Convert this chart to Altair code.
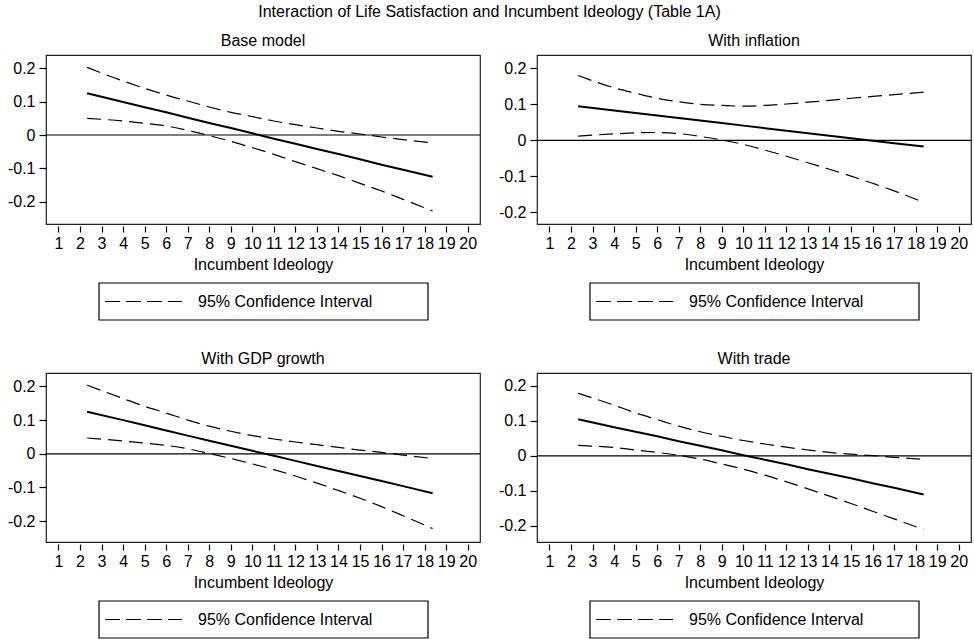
import altair as alt
import pandas as pd

# ---------------- data ----------------
main_title = "Interaction of Life Satisfaction and Incumbent Ideology (Table 1A)"
panel_titles = ["Base model", "With inflation", "With GDP growth", "With trade"]
x_title = "Incumbent Ideology"
legend_label = "95% Confidence Interval"

x_grid = [2.33, 4, 5, 6, 7, 8, 9, 10, 11, 12, 13, 14, 15, 16, 17, 18.37]
x_ticks = list(range(1, 21))
y_ticks = [-0.2, -0.1, 0, 0.1, 0.2]

base_est = [0.125, 0.099, 0.083, 0.068, 0.052, 0.036, 0.021, 0.005, -0.011, -0.026, -0.042, -0.057, -0.073, -0.089, -0.104, -0.125]
base_hi = [0.203, 0.162, 0.140, 0.120, 0.102, 0.084, 0.068, 0.055, 0.042, 0.031, 0.021, 0.011, 0.003, -0.006, -0.014, -0.024]
base_lo = [0.050, 0.042, 0.035, 0.027, 0.014, -0.002, -0.019, -0.038, -0.058, -0.080, -0.101, -0.122, -0.145, -0.168, -0.193, -0.228]

infl_est = [0.095, 0.083, 0.076, 0.069, 0.062, 0.055, 0.048, 0.041, 0.034, 0.027, 0.020, 0.013, 0.006, -0.001, -0.008, -0.017]
infl_hi = [0.180, 0.146, 0.131, 0.117, 0.107, 0.100, 0.097, 0.095, 0.097, 0.101, 0.106, 0.111, 0.117, 0.122, 0.127, 0.134]
infl_lo = [0.012, 0.018, 0.021, 0.022, 0.019, 0.011, 0.001, -0.011, -0.027, -0.044, -0.062, -0.080, -0.099, -0.119, -0.140, -0.172]

gdp_est = [0.125, 0.100, 0.085, 0.069, 0.054, 0.039, 0.024, 0.009, -0.006, -0.021, -0.036, -0.051, -0.066, -0.081, -0.096, -0.117]
gdp_hi = [0.204, 0.164, 0.141, 0.121, 0.100, 0.082, 0.067, 0.054, 0.044, 0.035, 0.027, 0.019, 0.011, 0.004, -0.004, -0.014]
gdp_lo = [0.047, 0.038, 0.032, 0.025, 0.015, 0.001, -0.014, -0.030, -0.047, -0.066, -0.087, -0.109, -0.132, -0.157, -0.184, -0.222]

trade_est = [0.105, 0.082, 0.069, 0.056, 0.042, 0.029, 0.016, 0.002, -0.011, -0.024, -0.038, -0.051, -0.064, -0.078, -0.091, -0.110]
trade_hi = [0.179, 0.145, 0.123, 0.104, 0.085, 0.069, 0.056, 0.044, 0.034, 0.025, 0.017, 0.010, 0.005, 0.001, -0.004, -0.010]
trade_lo = [0.030, 0.024, 0.017, 0.010, 0.002, -0.009, -0.023, -0.038, -0.055, -0.074, -0.094, -0.115, -0.136, -0.158, -0.180, -0.210]

y_domains = [[-0.267, 0.24], [-0.232, 0.237], [-0.262, 0.24], [-0.246, 0.237]]
x_domain = [0.42, 20.57]

FONT = "Liberation Sans"
FS = 16
W, H = 434, 169

X_AXIS = alt.Axis(values=x_ticks, title=x_title, offset=2, tickSize=6, labelPadding=3,
                  titlePadding=5, labelFlush=False, labelOverlap=False, tickCount=20)
Y_AXIS = alt.Axis(values=y_ticks, title=None, tickSize=7, labelPadding=4, labelOverlap=False,
                  labelExpr="datum.value == 0 ? '0' : (datum.value < 0 ? '-' + format(-datum.value, '.1f') : format(datum.value, '.1f'))")


def panel(title, est, lo, hi, ydom):
    n = len(x_grid)
    df = pd.DataFrame({
        "x": x_grid * 3,
        "y": est + lo + hi,
        "series": ["Estimate"] * n + ["Lower"] * n + ["Upper"] * n,
    })
    xs = alt.Scale(domain=x_domain, nice=False, zero=False)
    ys = alt.Scale(domain=ydom, nice=False, zero=False)
    xenc = alt.X("x:Q", scale=xs, axis=X_AXIS)
    yenc = alt.Y("y:Q", scale=ys, axis=Y_AXIS)
    base = alt.Chart(df)
    ci = base.mark_line(color="black", strokeWidth=1.2, strokeDash=[14, 7], interpolate="monotone").encode(
        x=xenc, y=yenc, detail="series:N").transform_filter("datum.series != 'Estimate'")
    line = base.mark_line(color="black", strokeWidth=2).encode(
        x=xenc, y=yenc).transform_filter("datum.series == 'Estimate'")
    zero = alt.Chart(pd.DataFrame({"y": [0]})).mark_rule(color="black", strokeWidth=1.2).encode(
        y=alt.Y("y:Q", scale=ys, axis=Y_AXIS))
    leg = alt.Chart(pd.DataFrame({"t": [legend_label]}))
    box = leg.mark_rect(fillOpacity=0, stroke="black", strokeWidth=1.2).encode(
        x=alt.value(53), x2=alt.value(382), y=alt.value(228), y2=alt.value(265))
    sample = leg.mark_rule(color="black", strokeWidth=1.2, strokeDash=[15, 6]).encode(
        x=alt.value(59), x2=alt.value(136), y=alt.value(246.5))
    txt = leg.mark_text(align="left", baseline="middle", font=FONT, fontSize=FS, color="black").encode(
        x=alt.value(152), y=alt.value(246.5), text="t:N")
    return alt.layer(ci, line, zero, box, sample, txt).properties(
        width=W, height=H,
        title=alt.TitleParams(title, frame="group", anchor="middle", offset=6,
                              fontSize=FS, font=FONT, fontWeight="normal", color="black"))


p1 = panel(panel_titles[0], base_est, base_lo, base_hi, y_domains[0])
p2 = panel(panel_titles[1], infl_est, infl_lo, infl_hi, y_domains[1])
p3 = panel(panel_titles[2], gdp_est, gdp_lo, gdp_hi, y_domains[2])
p4 = panel(panel_titles[3], trade_est, trade_lo, trade_hi, y_domains[3])

chart = alt.vconcat(
    alt.hconcat(p1, p2, spacing=15),
    alt.hconcat(p3, p4, spacing=15),
    spacing=28,
).properties(
    title=alt.TitleParams(main_title, anchor="middle", fontSize=FS, font=FONT,
                          fontWeight="normal", color="black", offset=12),
    padding={"left": 6, "top": 4, "right": 0, "bottom": 0},
    background="white",
).configure_view(
    stroke="#222", strokeWidth=1.2
).configure_axis(
    domain=False, grid=False, labelFont=FONT, labelFontSize=FS, labelColor="black",
    tickColor="black", tickWidth=1.2, titleFont=FONT, titleFontSize=FS,
    titleFontWeight="normal", titleColor="black", labelOverlap=False
)

chart.save("out.html", embed_options={"renderer": "svg", "actions": False})
